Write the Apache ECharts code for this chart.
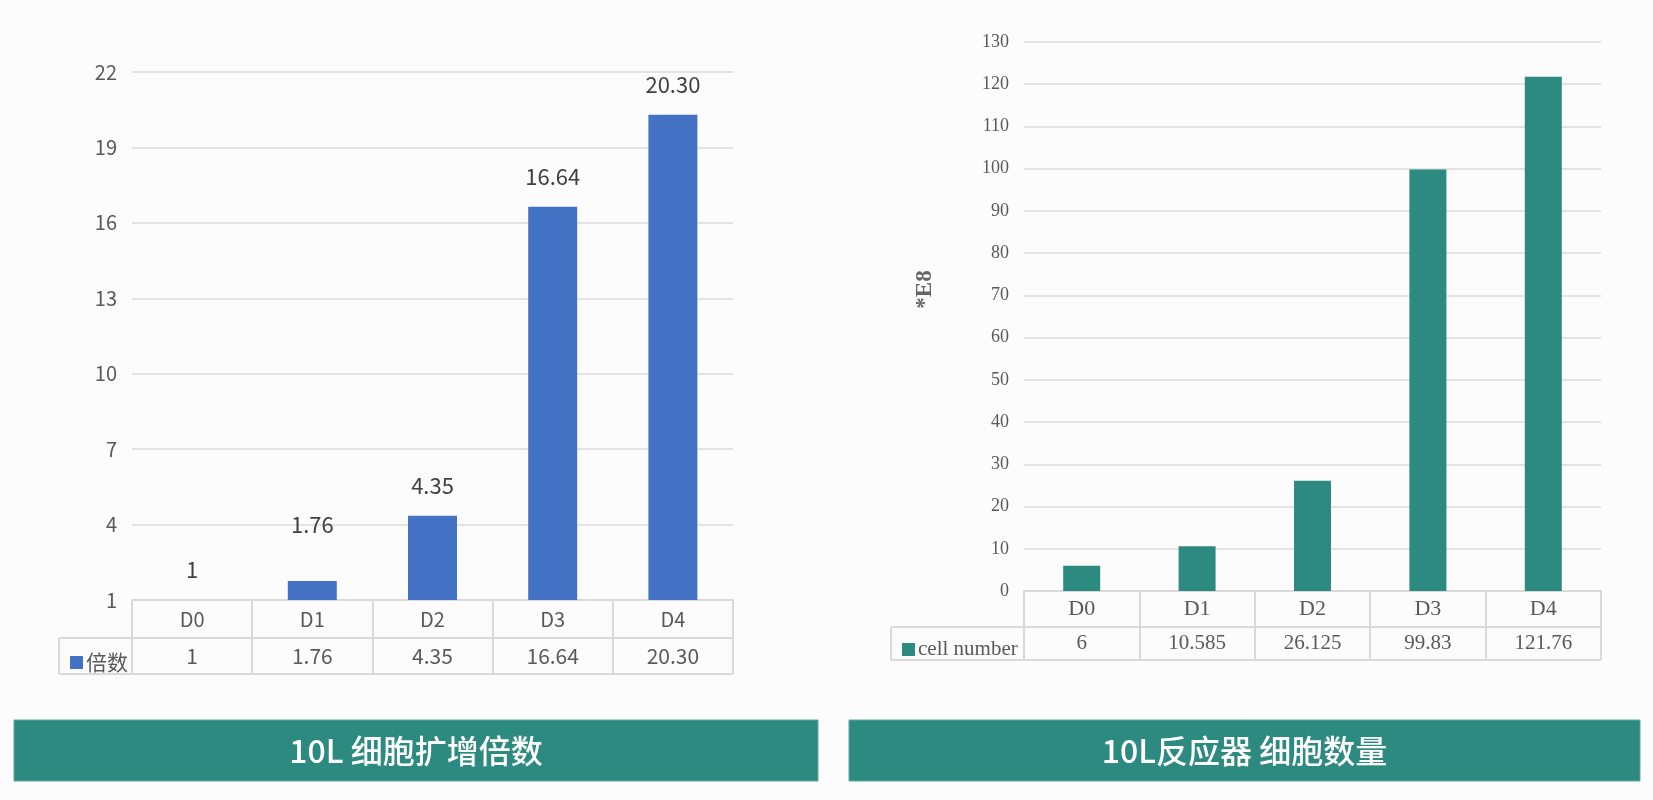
<!DOCTYPE html>
<html><head><meta charset="utf-8">
<script src="https://cdn.jsdelivr.net/npm/echarts@6/dist/echarts.min.js"></script>
<style>html,body{margin:0;padding:0;background:#fcfcfc}#c{width:1653px;height:800px}</style>
</head><body><div id="c"></div>
<script>
// ---- data ----
const categories = ['D0', 'D1', 'D2', 'D3', 'D4'];
const foldName = '倍数';
const foldValues = [1, 1.76, 4.35, 16.64, 20.30];
const foldLabels = ['1', '1.76', '4.35', '16.64', '20.30'];
const foldAxis = { min: 1, max: 22, interval: 3 };
const cellName = 'cell number';
const cellValues = [6, 10.585, 26.125, 99.83, 121.76];
const cellLabels = ['6', '10.585', '26.125', '99.83', '121.76'];
const cellAxis = { min: 0, max: 130, interval: 10, name: '*E8' };
const titles = ['10L 细胞扩增倍数', '10L反应器 细胞数量'];

// ---- layout ----
const L = { left: 132, right: 733, top: 72, axis: 600, row: 638, bottom: 674, legendLeft: 59 };
const R = { left: 1024, right: 1601, top: 42, axis: 591, row: 627, bottom: 660, legendLeft: 891 };
const lineColor = '#d9d9d9';
const gridColor = '#e3e3e3';
const textColor = '#595959';
const sans = '"Noto Sans CJK SC", "Noto Sans", sans-serif';
const serif = '"Liberation Serif", "DejaVu Serif", serif';
const teal = '#2d8a80';

function seg(x1, y1, x2, y2) {
  return { type: 'line', silent: true, shape: { x1, y1, x2, y2 }, style: { stroke: lineColor, lineWidth: 2 } };
}
function banner(x, y, w, h, text) {
  return {
    type: 'group', silent: true, children: [
      { type: 'rect', shape: { x, y, width: w, height: h }, style: { fill: teal, stroke: '#5fa9a0', lineWidth: 1 } },
      { type: 'text', x: x + w / 2, y: y + h / 2, style: { text, fill: '#fff', font: '500 32px ' + sans, align: 'center', verticalAlign: 'middle' } }
    ]
  };
}

const chart = echarts.init(document.getElementById('c'));
chart.setOption({
  backgroundColor: '#fcfcfc',
  animation: false,
  grid: [
    { left: L.left, top: L.top, width: L.right - L.left, height: L.axis - L.top },
    { left: R.left, top: R.top, width: R.right - R.left, height: R.axis - R.top }
  ],
  legend: [
    { data: [foldName], left: L.legendLeft + 6, top: L.row + 9, icon: 'rect', itemWidth: 13, itemHeight: 13, itemGap: 4,
      textStyle: { fontSize: 21, color: textColor, fontFamily: sans, padding: [0, 0, 0, -2] } },
    { data: [cellName], left: R.legendLeft + 6, top: R.row + 7, icon: 'rect', itemWidth: 13, itemHeight: 13,
      textStyle: { fontSize: 21, color: textColor, fontFamily: serif, padding: [0, 0, 0, -2] } }
  ],
  xAxis: [
    { type: 'category', gridIndex: 0, data: categories,
      axisLine: { lineStyle: { color: lineColor, width: 2 } },
      axisTick: { show: true, length: L.bottom - L.axis, interval: 0, lineStyle: { color: lineColor, width: 2 } },
      axisLabel: { margin: 0, interval: 0,
        formatter: (v, i) => '{a|' + v + '}\n{b|' + foldLabels[i] + '}',
        rich: {
          a: { height: L.row - L.axis, lineHeight: L.row - L.axis, fontSize: 20, color: textColor, fontFamily: sans },
          b: { height: L.bottom - L.row, lineHeight: L.bottom - L.row, fontSize: 21, color: textColor, fontFamily: sans }
        } } },
    { type: 'category', gridIndex: 1, data: categories,
      axisLine: { lineStyle: { color: lineColor, width: 2 } },
      axisTick: { show: true, length: R.bottom - R.axis, interval: 0, lineStyle: { color: lineColor, width: 2 } },
      axisLabel: { margin: 0, interval: 0,
        formatter: (v, i) => '{a|' + v + '}\n{b|' + cellLabels[i] + '}',
        rich: {
          a: { height: R.row - R.axis, lineHeight: R.row - R.axis, fontSize: 22, color: textColor, fontFamily: serif },
          b: { height: R.bottom - R.row, lineHeight: R.bottom - R.row, fontSize: 21, color: textColor, fontFamily: serif }
        } } }
  ],
  yAxis: [
    { type: 'value', gridIndex: 0, min: foldAxis.min, max: foldAxis.max, interval: foldAxis.interval,
      axisLine: { show: false }, axisTick: { show: false },
      splitLine: { lineStyle: { color: gridColor, width: 2 } },
      axisLabel: { margin: 15, fontSize: 20, color: textColor, fontFamily: sans } },
    { type: 'value', gridIndex: 1, min: cellAxis.min, max: cellAxis.max, interval: cellAxis.interval,
      name: cellAxis.name, nameLocation: 'middle', nameRotate: 90, nameGap: 87,
      nameTextStyle: { fontSize: 23, fontWeight: 'bold', color: '#666', fontFamily: serif, padding: [0, 0, 0, 54] },
      axisLine: { show: false }, axisTick: { show: false },
      splitLine: { lineStyle: { color: gridColor, width: 2 } },
      axisLabel: { margin: 15, fontSize: 18, color: textColor, fontFamily: serif } }
  ],
  series: [
    { type: 'bar', name: foldName, xAxisIndex: 0, yAxisIndex: 0, barWidth: 49,
      itemStyle: { color: '#4472c4' },
      data: foldValues.map((v, i) => i === 1 ? { value: v, label: { distance: 45 } } : v),
      label: { show: true, position: 'top', distance: 19, fontSize: 22, color: '#404040', fontFamily: sans,
        formatter: p => foldLabels[p.dataIndex] } },
    { type: 'bar', name: cellName, xAxisIndex: 1, yAxisIndex: 1, barWidth: 37,
      itemStyle: { color: teal },
      data: cellValues }
  ],
  graphic: [
    seg(L.legendLeft, L.row, L.right, L.row),
    seg(L.legendLeft, L.bottom, L.right, L.bottom),
    seg(L.legendLeft, L.row, L.legendLeft, L.bottom),
    seg(R.legendLeft, R.row, R.right, R.row),
    seg(R.legendLeft, R.bottom, R.right, R.bottom),
    seg(R.legendLeft, R.row, R.legendLeft, R.bottom),
    banner(14, 720, 804, 61, titles[0]),
    banner(849, 720, 791, 61, titles[1])
  ]
});
</script></body></html>
